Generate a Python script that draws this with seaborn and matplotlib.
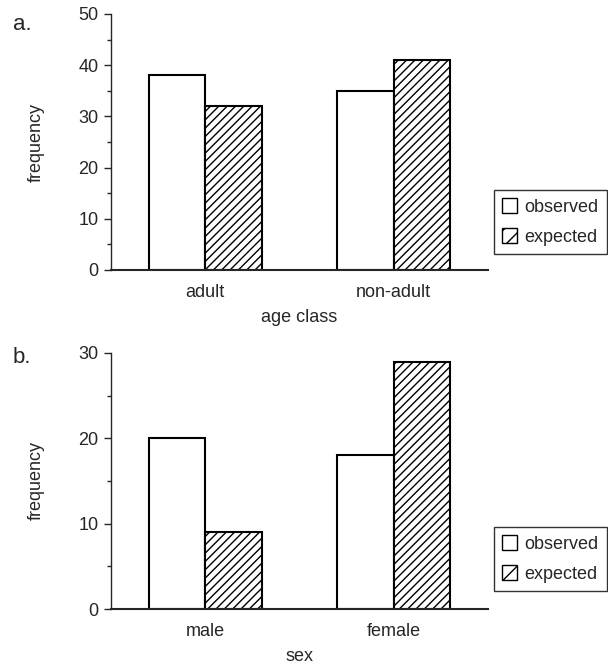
import matplotlib
matplotlib.use("Agg")
import matplotlib.pyplot as plt
import seaborn as sns
import pandas as pd
from matplotlib.patches import Patch
from matplotlib.ticker import MultipleLocator

age_classes = ["adult", "non-adult"]
age_observed = [38, 35]
age_expected = [32, 41]

sexes = ["male", "female"]
sex_observed = [20, 18]
sex_expected = [9, 29]

series = ["observed", "expected"]

sns.set_theme(style="ticks")
plt.rcParams["font.family"] = ["Liberation Sans", "DejaVu Sans"]
plt.rcParams["hatch.linewidth"] = 1.0

fig = plt.figure(figsize=(6.08, 6.64), dpi=100)
W, H = 608, 664
FS = 13

def make_ax(top_px, bottom_px):
    left, right = 111 / W, 488 / W
    return fig.add_axes([left, 1 - bottom_px / H, right - left, (bottom_px - top_px) / H])

def draw(ax, cats, obs, exp, xlabel, ymax, legend_top):
    df = pd.DataFrame({
        "cat": cats * 2,
        "series": [series[0]] * len(cats) + [series[1]] * len(cats),
        "value": obs + exp,
    })
    sns.barplot(data=df, x="cat", y="value", hue="series", hue_order=series,
                palette=["white", "white"], width=0.6, edgecolor="black",
                linewidth=1.5, legend=False, ax=ax)
    for bar in ax.containers[1]:
        bar.set_hatch("////")
    ax.set_xlim(-0.5, 1.5)
    ax.set_ylim(0, ymax)
    ax.yaxis.set_major_locator(MultipleLocator(10))
    ax.yaxis.set_minor_locator(MultipleLocator(5))
    ax.tick_params(axis="y", which="major", length=5, width=1, labelsize=FS, direction="out", pad=4)
    ax.tick_params(axis="y", which="minor", length=3, width=1)
    ax.tick_params(axis="x", length=0, labelsize=FS, pad=10)
    sns.despine(ax=ax)
    ax.spines["left"].set_linewidth(1.0)
    ax.spines["bottom"].set_linewidth(1.5)
    ax.set_xlabel(xlabel, fontsize=FS, labelpad=6)
    ax.set_ylabel("frequency", fontsize=FS, labelpad=24)
    handles = [Patch(facecolor="white", edgecolor="black", linewidth=1.0, label=series[0]),
               Patch(facecolor="white", edgecolor="black", linewidth=1.0, hatch="//", label=series[1])]
    leg = fig.legend(handles=handles, loc="upper left",
                     bbox_to_anchor=(494 / W, 1 - legend_top / H),
                     bbox_transform=fig.transFigure, frameon=True, fancybox=False,
                     edgecolor="black", fontsize=FS, handlelength=0.85, handleheight=0.85,
                     handletextpad=0.4, borderpad=0.45, labelspacing=0.7,
                     borderaxespad=0)
    leg.get_frame().set_linewidth(1.0)

ax1 = make_ax(14, 270)
draw(ax1, age_classes, age_observed, age_expected, "age class", 50, 190)
ax2 = make_ax(353, 609)
draw(ax2, sexes, sex_observed, sex_expected, "sex", 30, 527)

fig.text(13 / W, 1 - 30 / H, "a.", fontsize=16, va="baseline", ha="left")
fig.text(13 / W, 1 - 363 / H, "b.", fontsize=16, va="baseline", ha="left")

fig.savefig("out.png", dpi=100, facecolor="white")
